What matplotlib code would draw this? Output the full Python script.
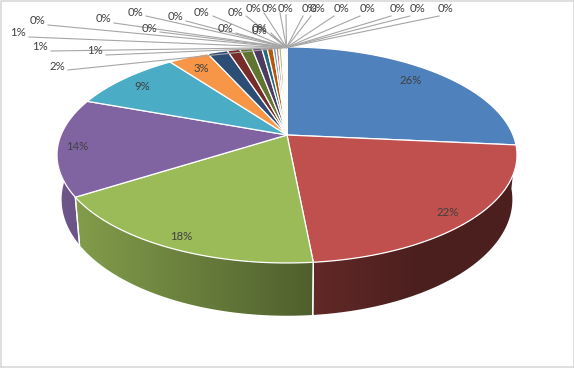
import numpy as np
import matplotlib
matplotlib.use('Agg')
import matplotlib.pyplot as plt
from matplotlib.patches import Polygon
from matplotlib.colors import to_rgb

plt.rcParams['font.family'] = ['Lato', 'DejaVu Sans']

# slice shares (percent, clockwise from 12 o'clock)
values = [26.5, 22.0, 17.5, 14.6, 9.3, 3.4, 1.7, 1.05, 1.05, 0.8, 0.45, 0.5, 0.25, 0.23, 0.25,
          0.03, 0.03, 0.03, 0.03, 0.03, 0.03, 0.03, 0.03, 0.03, 0.03, 0.03, 0.03, 0.03, 0.03, 0.03]
labels = ['26%', '22%', '18%', '14%', '9%', '3%', '2%', '1%', '1%', '1%',
          '0%', '0%', '0%', '0%', '0%', '0%', '0%', '0%', '0%', '0%',
          '0%', '0%', '0%', '0%', '0%', '0%', '0%', '0%', '0%', '0%']
colors = ['#4f81bd', '#c0504d', '#9bbb59', '#8064a2', '#4bacc6', '#f79646',
          '#2c4d75', '#772c2a', '#5f7530', '#4d3b62', '#276a7c', '#b65708',
          '#729aca', '#cd7371', '#afc97a', '#9983b5', '#6fbdd1', '#f9ab6b',
          '#3a679c', '#9e3b38', '#7f9c40', '#664f83', '#358ea6', '#f37d1a',
          '#95b3d7', '#d99694', '#c3d69b', '#b2a1c7', '#92cddc', '#fac090']

# label centres in image pixels, same order as the slices
label_pos = [(411, 81), (448, 212), (181, 237), (77, 146), (142, 87), (201, 68),
             (57, 66), (95, 51), (40, 47), (18, 33),
             (37, 21), (103, 19), (149, 28), (135, 12), (175, 17), (202, 12), (225, 29),
             (235, 12), (253, 9), (260, 29), (260, 31), (269, 9), (286, 9), (310, 9),
             (318, 9), (341, 9), (367, 9), (398, 9), (417, 9), (446, 9)]

# pie geometry in image pixels
cx, cy = 287, 135
ax_x, ax_y = 226, 104.3
persp = 0.185
depth = 43
bottom_scale = 0.98


def project(theta):
    u = np.sin(theta)
    v = np.cos(theta)
    w = 1 + persp * v
    return cx + ax_x * u / w, cy - ax_y * v / w, w


def project_bottom(theta):
    x, y, w = project(theta)
    return cx + (x - cx) * bottom_scale, y + depth / w


def side_shade(col, x):
    # rim shading runs left to right over the whole pie
    f = np.interp(x, [60, 320, 420, 520], [0.86, 0.5, 0.39, 0.39])
    return np.outer(f, to_rgb(col))


fig = plt.figure(figsize=(5.74, 3.68), dpi=100)
ax = fig.add_axes([0, 0, 1, 1])
ax.axis('off')

# chart frame
ax.plot([0.5, 0.5, 573.5, 573.5, 0.5], [367, 0.5, 0.5, 367, 367], color='#d9d9d9', lw=1.2, zorder=1)

edges = np.cumsum([0] + values) / sum(values) * 2 * np.pi

# rim, only the part facing the viewer
for i, col in enumerate(colors):
    t0, t1 = edges[i], edges[i + 1]
    if t1 <= np.pi / 2 + 0.1 or t0 >= 3 * np.pi / 2:
        continue
    th = np.linspace(max(t0, np.pi / 2), min(t1, 3 * np.pi / 2), 90)
    xt, yt, _ = project(th)
    xb, yb = project_bottom(th)
    outline = np.c_[np.r_[xt, xb[::-1]], np.r_[yt, yb[::-1]]]
    xs = np.linspace(outline[:, 0].min(), outline[:, 0].max(), 200)
    im = ax.imshow(side_shade(col, xs)[np.newaxis, :, :], aspect='auto', interpolation='bilinear', zorder=2,
                   extent=(xs[0], xs[-1], outline[:, 1].max(), outline[:, 1].min()))
    im.set_clip_path(Polygon(outline, transform=ax.transData))
    # white seam where two slices meet on the rim
    for t in (t0, t1):
        if np.pi * 0.6 < t < 3 * np.pi / 2:
            xa, ya, _ = project(t)
            xc, yc = project_bottom(t)
            ax.plot([xa, xc], [ya, yc], color='white', lw=0.9, zorder=3)

# top faces
for i, col in enumerate(colors):
    th = np.linspace(edges[i], edges[i + 1], 80)
    xs, ys, _ = project(th)
    ax.fill(np.r_[cx, xs], np.r_[cy, ys], facecolor=col, edgecolor='white', lw=0.9, zorder=4)

# leader lines for the thin slices, then every label
rim_x, rim_y = 286.5, 47.5
for i, (lab, (lx, ly)) in enumerate(zip(labels, label_pos)):
    if i >= 6:
        sx = lx + (11 if lx < rim_x else -7)
        sy = ly + (4 if lx < rim_x else 7)
        if abs(lx - rim_x) < 8:
            sx, sy = lx, ly + 6
        ax.plot([sx, rim_x], [sy, rim_y], color='#a6a6a6', lw=0.8, zorder=5)
    ax.text(lx, ly, lab, ha='center', va='center', fontsize=8.2, color='#404040', zorder=6)

ax.set_xlim(0, 574)
ax.set_ylim(368, 0)

fig.savefig('out.png', dpi=100)
